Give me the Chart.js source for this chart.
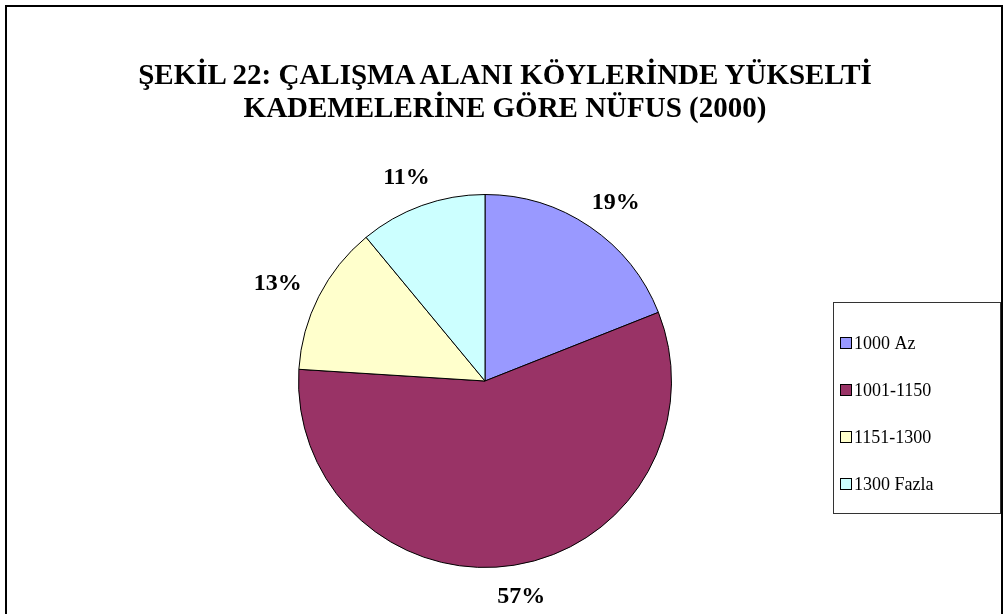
<!DOCTYPE html>
<html>
<head>
<meta charset="utf-8">
<script src="https://cdn.jsdelivr.net/npm/chart.js@4.4.1/dist/chart.umd.min.js"></script>
<style>
  html, body { margin: 0; padding: 0; background: #fff; }
  body { width: 1008px; height: 614px; overflow: hidden; position: relative; }
  #frame { position: absolute; left: 5px; top: 5px; width: 998px; height: 640px; border: 2px solid #000; box-sizing: border-box; }
  #title { position: absolute; left: 0; top: 58px; width: 1010px; text-align: center;
           font-family: "Liberation Serif", "Times New Roman", serif; font-weight: bold; font-size: 29px; line-height: 33px; color: #000; }
  #wrap { position: absolute; left: 0; top: 0; width: 1008px; height: 614px; }
</style>
</head>
<body>
<div id="frame"></div>
<div id="wrap"><canvas id="c" width="1008" height="614"></canvas></div>
<div id="title">ŞEKİL 22: ÇALIŞMA ALANI KÖYLERİNDE YÜKSELTİ<br>KADEMELERİNE GÖRE NÜFUS (2000)</div>
<script>
const categories = ["1000 Az", "1001-1150", "1151-1300", "1300 Fazla"];
const values = [19, 57, 13, 11];
const colors = ["#9999FF", "#993366", "#FFFFCC", "#CCFFFF"];

const outsideLabels = {
  id: 'outsideLabels',
  afterDatasetsDraw(chart) {
    const ctx = chart.ctx;
    const meta = chart.getDatasetMeta(0);
    const total = values.reduce((a, b) => a + b, 0);
    ctx.save();
    ctx.font = 'bold 24px "Liberation Serif", serif';
    ctx.fillStyle = '#000';
    ctx.textAlign = 'center';
    ctx.textBaseline = 'middle';
    meta.data.forEach((arc, i) => {
      const txt = Math.round(values[i] / total * 100) + '%';
      const w = ctx.measureText(txt).width, h = 17;
      const mid = (arc.startAngle + arc.endAngle) / 2;
      const r = arc.outerRadius + 22;
      const c = Math.cos(mid), s = Math.sin(mid);
      const x = arc.x + c * r + c * w / 2;
      const y = arc.y + s * r + s * h / 2;
      ctx.fillText(txt, x, y + 1);
    });
    ctx.restore();
  }
};

const boxLegend = {
  id: 'boxLegend',
  afterDraw(chart) {
    const ctx = chart.ctx;
    const bx = 833.5, by = 302.5, bw = 167, bh = 211;
    ctx.save();
    ctx.strokeStyle = '#333';
    ctx.lineWidth = 1;
    ctx.strokeRect(bx, by, bw, bh);
    ctx.font = '18px "Liberation Serif", serif';
    ctx.textAlign = 'left';
    ctx.textBaseline = 'middle';
    categories.forEach((c, i) => {
      const y = 343 + i * 47;
      ctx.fillStyle = colors[i];
      ctx.fillRect(840.5, y - 5.5, 11, 11);
      ctx.strokeStyle = '#000';
      ctx.strokeRect(840.5, y - 5.5, 11, 11);
      ctx.fillStyle = '#000';
      ctx.fillText(c, 854, y + 1);
    });
    ctx.restore();
  }
};

new Chart(document.getElementById('c'), {
  type: 'pie',
  data: {
    labels: categories,
    datasets: [{
      data: values,
      backgroundColor: colors,
      borderColor: '#000',
      borderWidth: 1
    }]
  },
  options: {
    responsive: false,
    animation: false,
    rotation: 0,
    layout: { padding: { left: 298, right: 336, top: 194, bottom: 46 } },
    plugins: { legend: { display: false }, tooltip: { enabled: false }, title: { display: false } }
  },
  plugins: [outsideLabels, boxLegend]
});
</script>
</body>
</html>
